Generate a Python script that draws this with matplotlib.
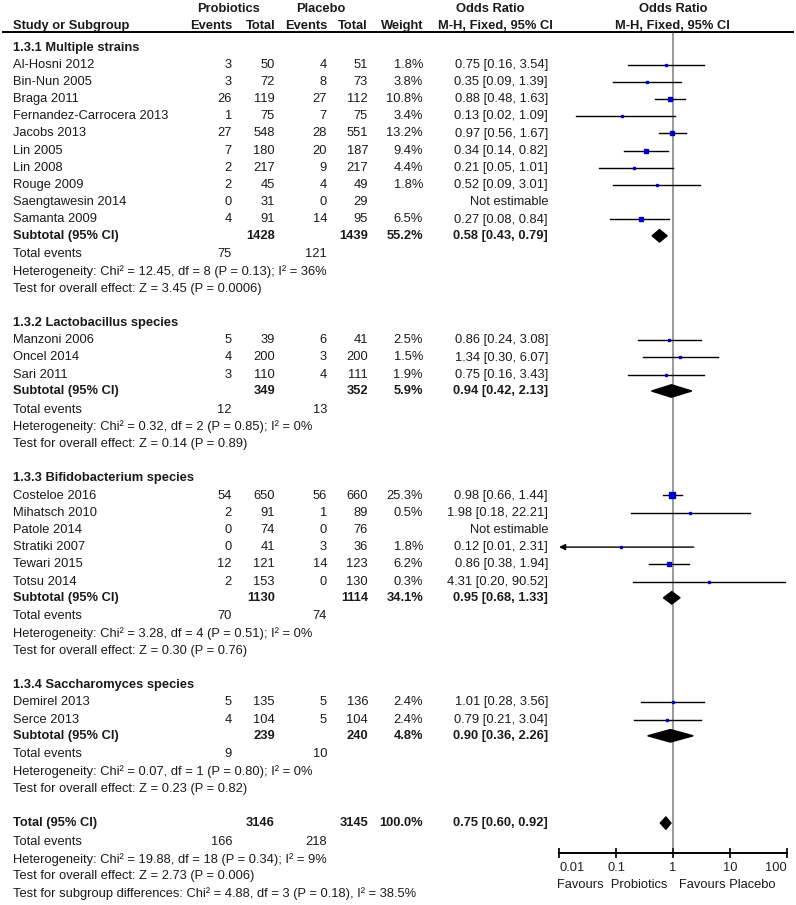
import numpy as np
import matplotlib.pyplot as plt
from matplotlib.patches import Polygon

plt.rcParams['font.family'] = ['Liberation Sans', 'DejaVu Sans']

# Study level data
groups = ['1.3.1 Multiple strains', '1.3.2 Lactobacillus species',
          '1.3.3 Bifidobacterium species', '1.3.4 Saccharomyces species']
group_sizes = [10, 3, 6, 2]
studies = ['Al-Hosni 2012', 'Bin-Nun 2005', 'Braga 2011', 'Fernandez-Carrocera 2013',
           'Jacobs 2013', 'Lin 2005', 'Lin 2008', 'Rouge 2009', 'Saengtawesin 2014',
           'Samanta 2009',
           'Manzoni 2006', 'Oncel 2014', 'Sari 2011',
           'Costeloe 2016', 'Mihatsch 2010', 'Patole 2014', 'Stratiki 2007',
           'Tewari 2015', 'Totsu 2014',
           'Demirel 2013', 'Serce 2013']
pro_events = [3, 3, 26, 1, 27, 7, 2, 2, 0, 4, 5, 4, 3, 54, 2, 0, 0, 12, 2, 5, 4]
pro_totals = [50, 72, 119, 75, 548, 180, 217, 45, 31, 91, 39, 200, 110,
              650, 91, 74, 41, 121, 153, 135, 104]
pla_events = [4, 8, 27, 7, 28, 20, 9, 4, 0, 14, 6, 3, 4, 56, 1, 0, 3, 14, 0, 5, 5]
pla_totals = [51, 73, 112, 75, 551, 187, 217, 49, 29, 95, 41, 200, 111,
              660, 89, 76, 36, 123, 130, 136, 104]
weights = [1.8, 3.8, 10.8, 3.4, 13.2, 9.4, 4.4, 1.8, np.nan, 6.5, 2.5, 1.5, 1.9,
           25.3, 0.5, np.nan, 1.8, 6.2, 0.3, 2.4, 2.4]
odds = [0.75, 0.35, 0.88, 0.13, 0.97, 0.34, 0.21, 0.52, np.nan, 0.27, 0.86, 1.34, 0.75,
        0.98, 1.98, np.nan, 0.12, 0.86, 4.31, 1.01, 0.79]
ci_lo = [0.16, 0.09, 0.48, 0.02, 0.56, 0.14, 0.05, 0.09, np.nan, 0.08, 0.24, 0.30, 0.16,
         0.66, 0.18, np.nan, 0.01, 0.38, 0.20, 0.28, 0.21]
ci_hi = [3.54, 1.39, 1.63, 1.09, 1.67, 0.82, 1.01, 3.01, np.nan, 0.84, 3.08, 6.07, 3.43,
         1.44, 22.21, np.nan, 2.31, 1.94, 90.52, 3.56, 3.04]

# Subgroup data
sub_pro_totals = [1428, 349, 1130, 239]
sub_pla_totals = [1439, 352, 1114, 240]
sub_weights = [55.2, 5.9, 34.1, 4.8]
sub_odds = [0.58, 0.94, 0.95, 0.90]
sub_lo = [0.43, 0.42, 0.68, 0.36]
sub_hi = [0.79, 2.13, 1.33, 2.26]
sub_pro_events = [75, 12, 70, 9]
sub_pla_events = [121, 13, 74, 10]
sub_het = ['Chi² = 12.45, df = 8 (P = 0.13); I² = 36%',
           'Chi² = 0.32, df = 2 (P = 0.85); I² = 0%',
           'Chi² = 3.28, df = 4 (P = 0.51); I² = 0%',
           'Chi² = 0.07, df = 1 (P = 0.80); I² = 0%']
sub_effect = ['Z = 3.45 (P = 0.0006)', 'Z = 0.14 (P = 0.89)',
              'Z = 0.30 (P = 0.76)', 'Z = 0.23 (P = 0.82)']

# Overall
tot_pro_total, tot_pla_total = 3146, 3145
tot_weight = 100.0
tot_odds, tot_lo, tot_hi = 0.75, 0.60, 0.92
tot_pro_events, tot_pla_events = 166, 218
tot_het = 'Chi² = 19.88, df = 18 (P = 0.34); I² = 9%'
tot_effect = 'Z = 2.73 (P = 0.006)'
subgroup_diff = 'Chi² = 4.88, df = 3 (P = 0.18), I² = 38.5%'

axis_ticks = [0.01, 0.1, 1, 10, 100]
axis_labels = ['0.01', '0.1', '1', '10', '100']

W, H = 796, 905
fig = plt.figure(figsize=(W / 100, H / 100), dpi=100)
tax = fig.add_axes([0, 0, 1, 1])
tax.set_xlim(0, W)
tax.set_ylim(H, 0)
tax.axis('off')

FS = 9.3
TC = '#1a1a1a'

# forest panel, y in pixel rows, x in log odds ratio
x0, x1, ytop, ybot = 559, 787, 33, 853
fax = fig.add_axes([x0 / W, (H - ybot) / H, (x1 - x0) / W, (ybot - ytop) / H])
fax.set_xscale('log')
fax.set_xlim(0.01, 100)
fax.set_ylim(ybot, ytop)
fax.patch.set_alpha(0)
for s in ['top', 'left', 'right']:
    fax.spines[s].set_visible(False)
fax.spines['bottom'].set_linewidth(1.4)
fax.set_yticks([])
fax.set_xticks(axis_ticks)
fax.set_xticklabels(axis_labels)
fax.minorticks_off()
fax.tick_params(axis='x', direction='inout', length=7, width=1.4, pad=3,
                labelsize=FS, colors='#222222')
fax.get_xticklabels()[0].set_ha('left')
fax.get_xticklabels()[-1].set_ha('right')
fax.axvline(1, color='#7f7f7f', lw=1.1, zorder=1)

X_NAME, X_PE, X_PT, X_CE, X_CT, X_W, X_OR = 13, 232, 275, 327, 368, 423, 548


def txt(x, y, s, ha='left', bold=False):
    tax.text(x, y, s, ha=ha, va='center', fontsize=FS, color=TC,
             fontweight='bold' if bold else 'normal')


# header
txt(229, 9, 'Probiotics', 'center', True)
txt(321, 9, 'Placebo', 'center', True)
txt(490, 9, 'Odds Ratio', 'center', True)
txt(673, 9, 'Odds Ratio', 'center', True)
txt(X_NAME, 26, 'Study or Subgroup', bold=True)
txt(X_PE, 26, 'Events', 'right', True)
txt(X_PT, 26, 'Total', 'right', True)
txt(X_CE, 26, 'Events', 'right', True)
txt(X_CT, 26, 'Total', 'right', True)
txt(X_W, 26, 'Weight', 'right', True)
txt(495, 26, 'M-H, Fixed, 95% CI', 'center', True)
txt(672, 26, 'M-H, Fixed, 95% CI', 'center', True)
tax.plot([3, 793], [32.5, 32.5], color='black', lw=1.4)


def diamond(y, est, lo, hi, h=12.5):
    fax.add_patch(Polygon([(lo, y), (est, y - h / 2), (hi, y), (est, y + h / 2)],
                          closed=True, color='black', zorder=3))


def summary_lines(y, ev_p, ev_c, het, eff):
    y += 18.5
    txt(X_NAME, y, 'Total events')
    txt(X_PE, y, str(ev_p), 'right')
    txt(X_CE, y, str(ev_c), 'right')
    y += 17.5
    txt(X_NAME, y, 'Heterogeneity: ' + het)
    y += 17.3
    txt(X_NAME, y, 'Test for overall effect: ' + eff)
    return y


STEP = 17.2
y = 47.5
i = 0
for g in range(len(groups)):
    txt(X_NAME, y, groups[g], bold=True)
    for k in range(group_sizes[g]):
        y += STEP
        txt(X_NAME, y, studies[i])
        txt(X_PE, y, str(pro_events[i]), 'right')
        txt(X_PT, y, str(pro_totals[i]), 'right')
        txt(X_CE, y, str(pla_events[i]), 'right')
        txt(X_CT, y, str(pla_totals[i]), 'right')
        if np.isnan(odds[i]):
            txt(X_OR, y, 'Not estimable', 'right')
        else:
            txt(X_W, y, f'{weights[i]:.1f}%', 'right')
            txt(X_OR, y, f'{odds[i]:.2f} [{ci_lo[i]:.2f}, {ci_hi[i]:.2f}]', 'right')
            if ci_lo[i] <= 0.01:
                fax.annotate('', xy=(0.01, y), xytext=(ci_hi[i], y),
                             arrowprops=dict(arrowstyle='-|>', color='black', lw=1.0,
                                             mutation_scale=9, shrinkA=0, shrinkB=0),
                             zorder=2)
            else:
                fax.plot([ci_lo[i], ci_hi[i]], [y, y], color='black', lw=1.0, zorder=2)
            ms = max(1.4, 4.8 * np.sqrt(weights[i] / 25.3))
            fax.plot(odds[i], y, marker='s', ms=ms, color='#0000c8', mec='#0000c8',
                     zorder=3)
        i += 1
    y += 16.3
    txt(X_NAME, y, 'Subtotal (95% CI)', bold=True)
    txt(X_PT, y, str(sub_pro_totals[g]), 'right', True)
    txt(X_CT, y, str(sub_pla_totals[g]), 'right', True)
    txt(X_W, y, f'{sub_weights[g]:.1f}%', 'right', True)
    txt(X_OR, y, f'{sub_odds[g]:.2f} [{sub_lo[g]:.2f}, {sub_hi[g]:.2f}]', 'right', True)
    diamond(y, sub_odds[g], sub_lo[g], sub_hi[g])
    y = summary_lines(y, sub_pro_events[g], sub_pla_events[g], sub_het[g], sub_effect[g])
    y += 34

# overall
txt(X_NAME, y, 'Total (95% CI)', bold=True)
txt(X_PT, y, str(tot_pro_total), 'right', True)
txt(X_CT, y, str(tot_pla_total), 'right', True)
txt(X_W, y, f'{tot_weight:.1f}%', 'right', True)
txt(X_OR, y, f'{tot_odds:.2f} [{tot_lo:.2f}, {tot_hi:.2f}]', 'right', True)
diamond(y, tot_odds, tot_lo, tot_hi)
y = summary_lines(y, tot_pro_events, tot_pla_events, tot_het, tot_effect)
y += 17.3
txt(X_NAME, y, 'Test for subgroup differences: ' + subgroup_diff)

txt(667, 885, 'Favours  Probiotics', 'right')
txt(679, 885, 'Favours Placebo', 'left')

fig.savefig('out.png', dpi=100)
